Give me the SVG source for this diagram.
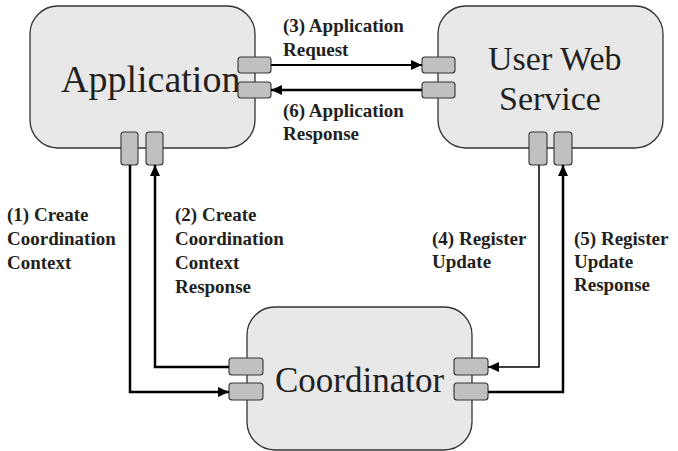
<svg xmlns="http://www.w3.org/2000/svg" width="678" height="451" viewBox="0 0 678 451">
<defs>
<marker id="ah" markerUnits="userSpaceOnUse" markerWidth="12" markerHeight="10" refX="11" refY="5" orient="auto">
<path d="M0,0 L11,5 L0,10 Z" fill="#000"/>
</marker>
</defs>
<rect width="678" height="451" fill="#fff"/>
<g id="application">
<rect x="30" y="6" width="225" height="142" rx="28" ry="28" fill="#e8e8e8" stroke="#333" stroke-width="1.3"/>
<text x="61" y="92" font-family="'Liberation Serif'" font-size="38" fill="#231f20">Application</text>
<g fill="#c0c0c0" stroke="#333" stroke-width="1.1">
<rect x="238" y="57" width="33" height="16" rx="3"/>
<rect x="238" y="82" width="33" height="16" rx="3"/>
<rect x="121" y="132" width="17" height="33" rx="3"/>
<rect x="146" y="132" width="17" height="33" rx="3"/>
</g>
</g>
<g id="userwebservice">
<rect x="438" y="6" width="225" height="142" rx="28" ry="28" fill="#e8e8e8" stroke="#333" stroke-width="1.3"/>
<text x="488" y="70" font-family="'Liberation Serif'" font-size="34" fill="#231f20">User Web</text>
<text x="499" y="110" font-family="'Liberation Serif'" font-size="34" fill="#231f20">Service</text>
<g fill="#c0c0c0" stroke="#333" stroke-width="1.1">
<rect x="422" y="57" width="33" height="16" rx="3"/>
<rect x="422" y="82" width="33" height="16" rx="3"/>
<rect x="529" y="132" width="18" height="33" rx="3"/>
<rect x="554" y="132" width="18" height="33" rx="3"/>
</g>
</g>
<g id="coordinator">
<rect x="247" y="307" width="225" height="143" rx="28" ry="28" fill="#e8e8e8" stroke="#333" stroke-width="1.3"/>
<text x="275" y="392" font-family="'Liberation Serif'" font-size="35" fill="#231f20">Coordinator</text>
<g fill="#c0c0c0" stroke="#333" stroke-width="1.1">
<rect x="229" y="358" width="34" height="17" rx="3"/>
<rect x="229" y="383" width="34" height="17" rx="3"/>
<rect x="454" y="358" width="34" height="17" rx="3"/>
<rect x="454" y="383" width="34" height="17" rx="3"/>
</g>
</g>
<g id="connectors" fill="none" stroke="#000">
<path d="M271,65 H422" stroke-width="2" marker-end="url(#ah)"/>
<path d="M422,90 H271" stroke-width="2.5" marker-end="url(#ah)"/>
<path d="M130,165 V392 H229" stroke-width="2.5" marker-end="url(#ah)"/>
<path d="M229,367 H155 V165" stroke-width="2.5" marker-end="url(#ah)"/>
<path d="M539,165 V367 H488" stroke-width="1.5" marker-end="url(#ah)"/>
<path d="M488,392 H563 V165" stroke-width="2.5" marker-end="url(#ah)"/>
</g>
<g id="labels">
<text x="283" y="32" font-family="'Liberation Serif'" font-weight="bold" font-size="19" fill="#231f20">(3) Application</text>
<text x="283" y="56" font-family="'Liberation Serif'" font-weight="bold" font-size="19" fill="#231f20">Request</text>
<text x="283" y="117" font-family="'Liberation Serif'" font-weight="bold" font-size="19" fill="#231f20">(6) Application</text>
<text x="283" y="140" font-family="'Liberation Serif'" font-weight="bold" font-size="19" fill="#231f20">Response</text>
<text x="7" y="221" font-family="'Liberation Serif'" font-weight="bold" font-size="19" fill="#231f20">(1) Create</text>
<text x="7" y="245" font-family="'Liberation Serif'" font-weight="bold" font-size="19" fill="#231f20">Coordination</text>
<text x="7" y="269" font-family="'Liberation Serif'" font-weight="bold" font-size="19" fill="#231f20">Context</text>
<text x="175" y="221" font-family="'Liberation Serif'" font-weight="bold" font-size="19" fill="#231f20">(2) Create</text>
<text x="175" y="245" font-family="'Liberation Serif'" font-weight="bold" font-size="19" fill="#231f20">Coordination</text>
<text x="175" y="269" font-family="'Liberation Serif'" font-weight="bold" font-size="19" fill="#231f20">Context</text>
<text x="175" y="293" font-family="'Liberation Serif'" font-weight="bold" font-size="19" fill="#231f20">Response</text>
<text x="432" y="245" font-family="'Liberation Serif'" font-weight="bold" font-size="19" fill="#231f20">(4) Register</text>
<text x="432" y="268" font-family="'Liberation Serif'" font-weight="bold" font-size="19" fill="#231f20">Update</text>
<text x="574" y="245" font-family="'Liberation Serif'" font-weight="bold" font-size="19" fill="#231f20">(5) Register</text>
<text x="574" y="268" font-family="'Liberation Serif'" font-weight="bold" font-size="19" fill="#231f20">Update</text>
<text x="574" y="291" font-family="'Liberation Serif'" font-weight="bold" font-size="19" fill="#231f20">Response</text>
</g>
</svg>
